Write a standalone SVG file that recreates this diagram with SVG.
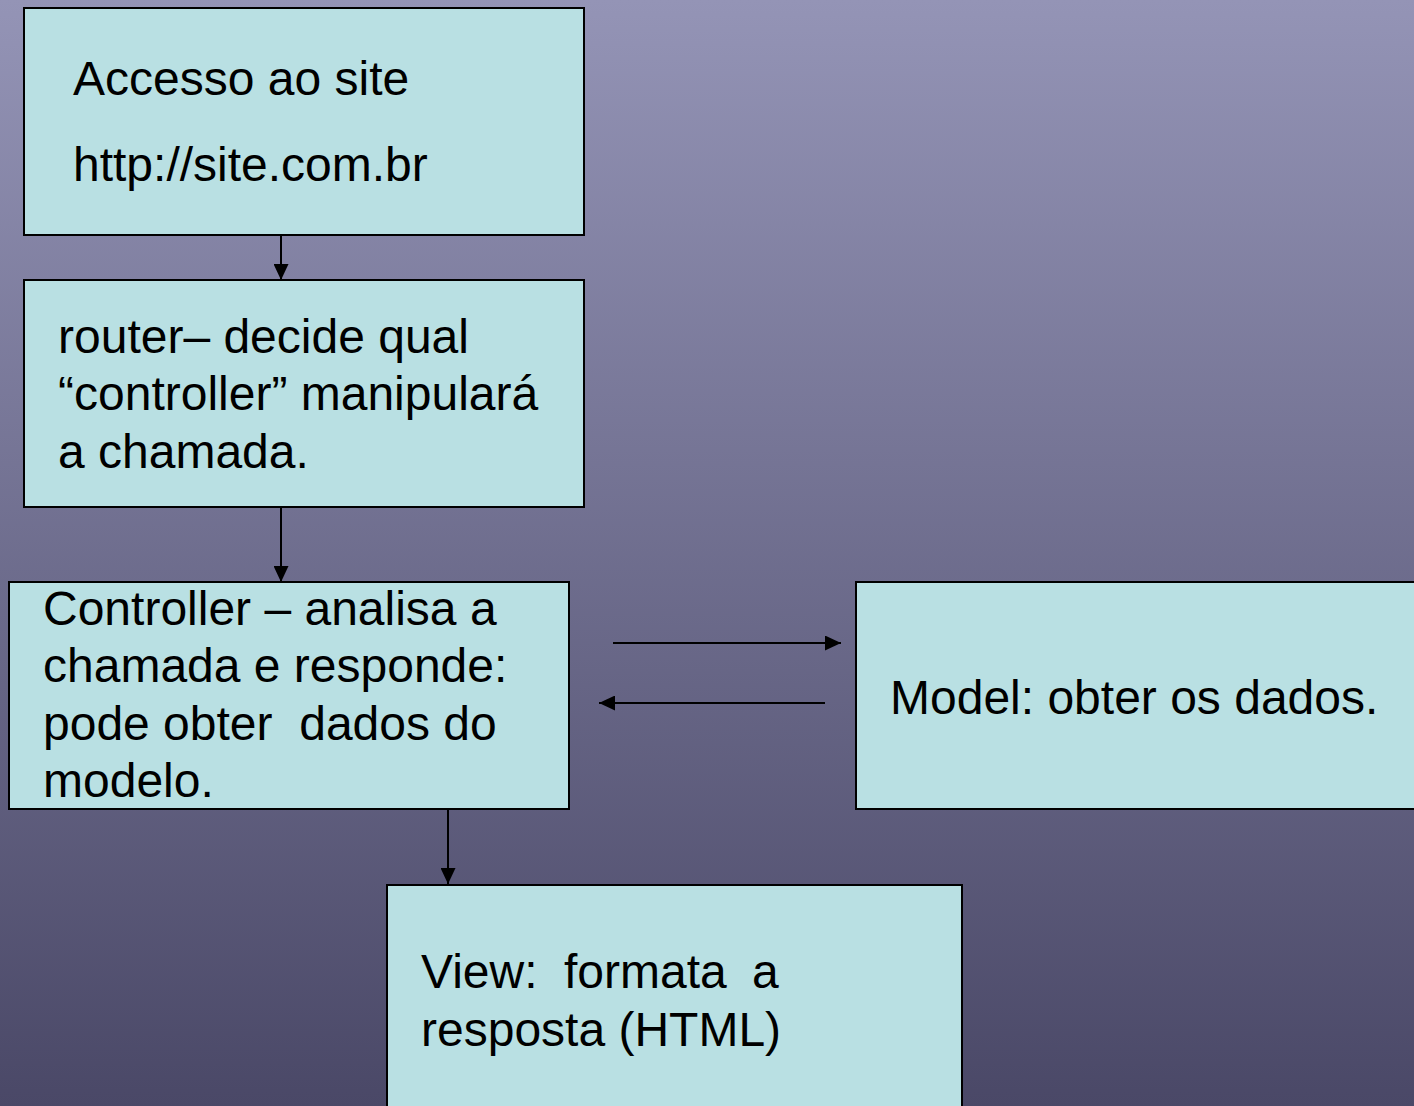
<svg xmlns="http://www.w3.org/2000/svg" width="1414" height="1106" viewBox="0 0 1414 1106">
  <defs>
    <linearGradient id="bg" x1="0" y1="0" x2="0" y2="1">
      <stop offset="0" stop-color="#9494b6"/>
      <stop offset="1" stop-color="#4a4867"/>
    </linearGradient>
    <marker id="arrow" markerUnits="userSpaceOnUse" markerWidth="16" markerHeight="15" refX="16" refY="7.5" orient="auto">
      <path d="M0,0 L16,7.5 L0,15 z" fill="#000"/>
    </marker>
    <style>
      .box { fill: #b9e0e3; stroke: #000; stroke-width: 2; }
      .lbl { font-family: "Liberation Sans", Arial, sans-serif; font-size: 48px; fill: #000; }
      .conn { stroke: #000; stroke-width: 2; fill: none; marker-end: url(#arrow); }
    </style>
  </defs>
  <rect x="0" y="0" width="1414" height="1106" fill="url(#bg)"/>

  <g id="node-access">
    <rect class="box" x="24" y="8" width="560" height="227"/>
    <text class="lbl" x="73" y="95">Accesso ao site</text>
    <text class="lbl" x="73" y="181">http://site.com.br</text>
  </g>

  <g id="node-router">
    <rect class="box" x="24" y="280" width="560" height="227"/>
    <text class="lbl" x="58" y="353">router– decide qual</text>
    <text class="lbl" x="58" y="410">“controller” manipulará</text>
    <text class="lbl" x="58" y="468">a chamada.</text>
  </g>

  <g id="node-controller">
    <rect class="box" x="9" y="582" width="560" height="227"/>
    <text class="lbl" x="43" y="625">Controller – analisa a</text>
    <text class="lbl" x="43" y="682">chamada e responde:</text>
    <text class="lbl" x="43" y="740" xml:space="preserve">pode obter  dados do</text>
    <text class="lbl" x="43" y="797">modelo.</text>
  </g>

  <g id="node-model">
    <rect class="box" x="856" y="582" width="600" height="227"/>
    <text class="lbl" x="890" y="714">Model: obter os dados.</text>
  </g>

  <g id="node-view">
    <rect class="box" x="387" y="885" width="575" height="260"/>
    <text class="lbl" y="988"><tspan x="421">View:</tspan><tspan x="564">formata</tspan><tspan x="752">a</tspan></text>
    <text class="lbl" x="421" y="1046">resposta (HTML)</text>
  </g>

  <g id="connectors">
    <line class="conn" x1="281" y1="235" x2="281" y2="280"/>
    <line class="conn" x1="281" y1="507" x2="281" y2="582"/>
    <line class="conn" x1="613" y1="643" x2="841" y2="643"/>
    <line class="conn" x1="825" y1="703" x2="599" y2="703"/>
    <line class="conn" x1="448" y1="809" x2="448" y2="884"/>
  </g>
</svg>
